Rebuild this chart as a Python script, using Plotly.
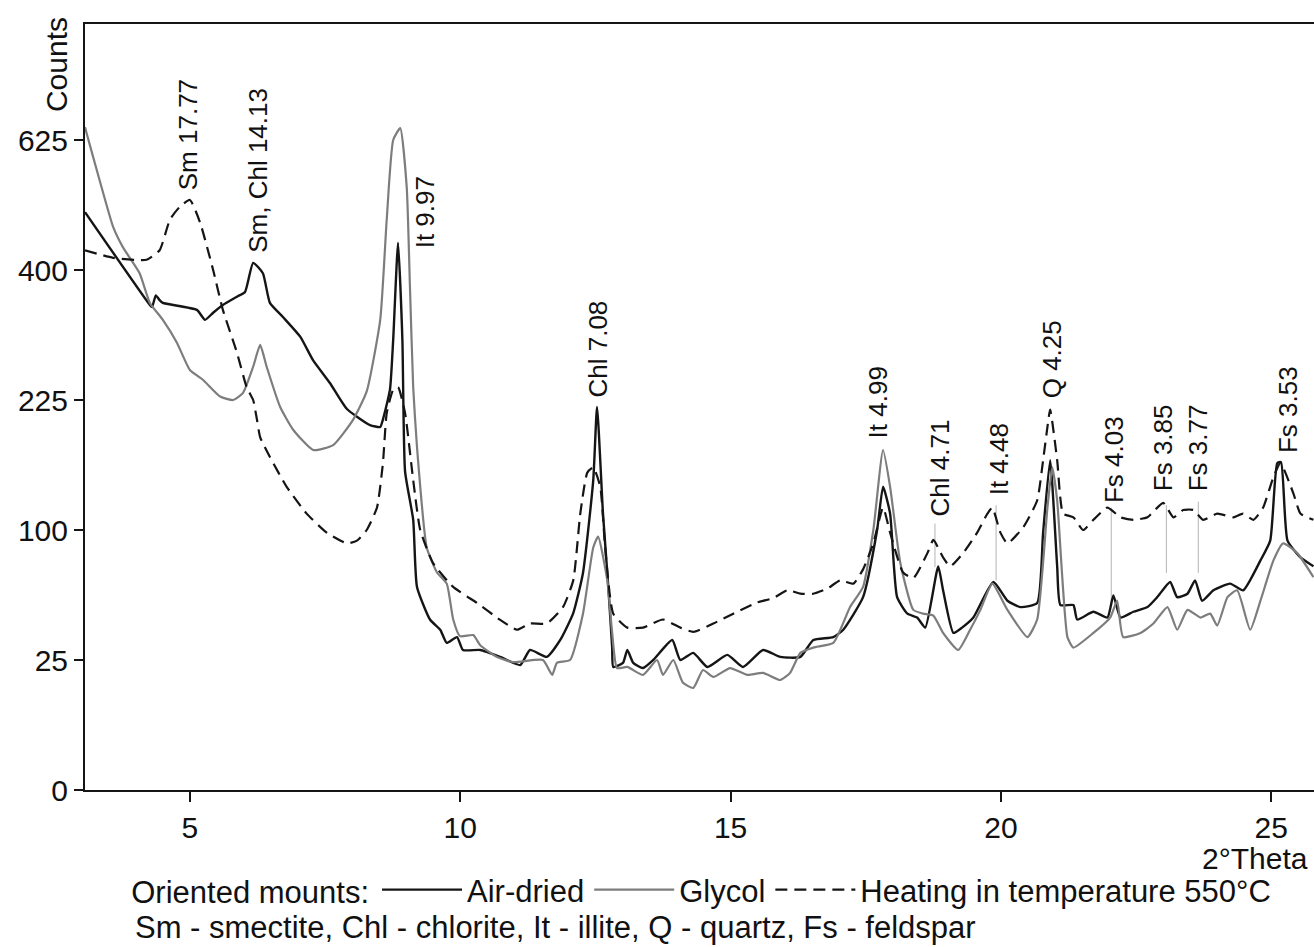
import numpy as np
import plotly.graph_objects as go

# ---------------- data (2-theta in degrees, intensity in counts) ----------------
air_x = [3.06,4.26,4.30,4.37,4.44,4.50,5.13,5.28,5.43,5.61,5.87,6.02,6.17,6.35,6.48,6.72,7.04,7.28,7.59,7.90,
         8.33,8.52,8.57,8.70,8.76,8.85,8.93,8.98,9.13,9.20,9.44,9.63,9.75,9.94,10.05,10.37,10.74,11.11,11.29,11.60,
         11.85,12.09,12.27,12.46,12.53,12.64,12.73,12.81,12.83,13.01,13.09,13.20,13.38,13.57,13.92,14.07,14.31,14.57,
         14.94,15.23,15.60,15.92,16.29,16.53,16.90,17.08,17.45,17.71,17.82,17.95,18.08,18.27,18.45,18.60,18.84,18.93,
         19.12,19.28,19.49,19.86,20.12,20.36,20.67,20.78,20.91,21.04,21.10,21.34,21.41,21.71,21.97,22.08,22.21,22.45,
         22.71,22.89,23.13,23.26,23.45,23.59,23.72,23.93,24.24,24.48,24.80,24.98,25.11,25.18,25.30,25.54,25.78]
air_c = [494,348,345,362,355,351,341,327,337,348,360,367,411,395,351,331,304,273,245,215,
         197,195,203,237,300,443,300,150,108,61,43,38,32,34.6,29,29,26.2,23.1,29,26.2,
         33.3,46.3,69.7,142,217,113,65,30,22.4,23.9,29,23.9,22,25,33.3,25,27.8,22.4,
         27,22.4,29,26.2,26.2,33.3,34.6,37.9,55,100,136,113,55,46,44,39,74,59,
         36.5,39,44,64,53,49.5,51.7,98,161,74,50.6,50.6,43,47,44,56,44,47,
         49.5,55,64,55,57,65,53,59,63,59,78,92,158,159,92,80,74]

gly_x = [3.06,3.09,3.33,3.58,3.76,4.07,4.26,4.50,4.76,5.00,5.24,5.56,5.80,5.98,6.17,6.30,6.42,6.67,6.91,7.28,
         7.65,8.02,8.27,8.52,8.64,8.76,8.89,9.01,9.07,9.13,9.20,9.38,9.57,9.75,9.87,9.995,10.24,10.37,10.68,10.98,
         11.53,11.70,11.79,12.03,12.27,12.46,12.55,12.72,12.81,12.90,13.09,13.38,13.64,13.75,13.94,14.12,14.31,14.49,
         14.68,14.99,15.31,15.60,15.92,16.10,16.29,16.53,16.90,17.21,17.45,17.64,17.82,17.95,18.14,18.38,18.56,18.75,
         18.93,19.21,19.43,19.62,19.84,20.12,20.49,20.67,20.86,20.95,21.04,21.23,21.34,21.71,22.02,22.15,22.26,22.58,
         22.82,23.08,23.26,23.45,23.69,23.87,24.00,24.19,24.37,24.61,24.80,25.04,25.22,25.48,25.78]
gly_c = [650,638,550,469,436,395,351,327,296,261,249,229,225,233,265,293,265,217,192,171,
         176,203,235,327,481,625,648,538,374,240,174,87,70,63,43,35,35.5,31,26.2,24.2,
         25,19.6,24,25,46,87,95,65,36.5,22,22.4,19.6,25,19.6,25,17,15.4,21.3,
         18.9,22,19.6,20.3,17.9,20.3,27.8,30,32,49.5,61,100,171,136,76,48,46,45,
         36.5,29,38,48,63,48,34.6,43,118,154,124,34.6,30,36.5,44,53,34.6,36.5,
         41,49.5,38,48,44,46,40,55,59,38,53,78,90,83,67]

heat_x = [3.06,3.58,4.20,4.44,4.63,4.81,5.00,5.19,5.43,5.61,5.87,6.05,6.17,6.24,6.30,6.48,6.79,7.16,7.53,7.90,
          8.09,8.27,8.46,8.57,8.64,8.76,8.85,8.98,9.13,9.26,9.50,9.87,10.31,10.74,11.05,11.29,11.60,11.90,12.09,12.22,
          12.35,12.46,12.59,12.68,12.83,13.09,13.38,13.75,14.07,14.31,14.68,15.05,15.49,15.79,16.05,16.29,16.53,16.79,
          17.03,17.27,17.45,17.64,17.82,17.95,18.19,18.38,18.64,18.75,18.93,19.06,19.30,19.56,19.75,19.84,19.99,20.12,
          20.41,20.67,20.78,20.86,20.91,21.04,21.15,21.34,21.52,21.71,21.97,22.21,22.45,22.71,23.00,23.19,23.37,23.56,
          23.74,24.00,24.30,24.48,24.67,24.85,25.04,25.17,25.41,25.54,25.78]
heat_c = [431,419,416,431,481,503,515,476,400,341,283,240,225,203,184,164,136,113,98,90,
          92,100,118,158,210,237,240,210,142,100,76,61,51.7,42.8,38,41,41,49.5,65,113,
          149,154,136,87,46,39,39,43,39,37,41,46,52,54.5,59,57,57,60,
          65,63,72,90,118,98,70,66.5,83,92.5,80,74,83,98,113,118,98,90,
          102,124,161,195,214,161,113,110,100,108,118,110,108,110,122,110,116,116,
          108,113,110,113,108,118,145,158,130,113,108]

# peak labels (d-spacings) and where their bottoms sit
lab_text = ["Sm 17.77", "Sm, Chl 14.13", "It 9.97", "Chl 7.08", "It 4.99", "Chl 4.71",
            "It 4.48", "Q 4.25", "Fs 4.03", "Fs 3.85", "Fs 3.77", "Fs 3.53"]
lab_x = [4.96, 6.26, 9.35, 12.53, 17.73, 18.88, 19.97, 20.95, 22.08, 23.00, 23.65, 25.30]
lab_c = [529, 423, 431, 225, 181, 109, 127, 225, 120, 130, 130, 166]

# thin leader lines from label to peak
lead_x = [18.78, 19.91, 22.04, 23.06, 23.65]
lead_top = [105, 120, 118, 120, 123]
lead_bot = [73.6, 65, 51.7, 69.7, 69.7]

y_tick_counts = [0, 25, 100, 225, 400, 625]
x_ticks = [5, 10, 15, 20, 25]


def sq(v):
    return np.sqrt(np.asarray(v, dtype=float))


FONT = "Liberation Sans, Arial, Helvetica, sans-serif"
BLACK = "#151515"
GRAY = "#7d7d7d"
SMOOTH = 0.5

fig = go.Figure()

lx, ly = [], []
for x0, t, b in zip(lead_x, lead_top, lead_bot):
    lx += [x0, x0, None]
    ly += [float(np.sqrt(t)), float(np.sqrt(b)), None]
fig.add_trace(go.Scatter(x=lx, y=ly, mode="lines", line=dict(color="#b4b4b4", width=1),
                         showlegend=False, hoverinfo="skip"))

fig.add_trace(go.Scatter(x=air_x, y=sq(air_c), mode="lines", name="Air-dried",
                         line=dict(color=BLACK, width=2.4, shape="spline", smoothing=SMOOTH)))
fig.add_trace(go.Scatter(x=gly_x, y=sq(gly_c), mode="lines", name="Glycol",
                         line=dict(color=GRAY, width=2.2, shape="spline", smoothing=SMOOTH)))
fig.add_trace(go.Scatter(x=heat_x, y=sq(heat_c), mode="lines", name="Heating in temperature 550°C",
                         line=dict(color=BLACK, width=2.2, dash="12px,7px",
                                   shape="spline", smoothing=SMOOTH)))

annotations = []
for t, x0, c0 in zip(lab_text, lab_x, lab_c):
    annotations.append(dict(x=x0, y=float(np.sqrt(c0)), xref="x", yref="y", text=t,
                            textangle=-90, showarrow=False, xanchor="center", yanchor="bottom",
                            font=dict(family=FONT, size=26, color="#111")))

annotations.append(dict(x=-0.023, y=1.012, xref="paper", yref="paper", text="Counts",
                        textangle=-90, showarrow=False, xanchor="center", yanchor="top",
                        font=dict(family=FONT, size=30, color="#111")))
annotations.append(dict(x=0.9965, y=-0.09, xref="paper", yref="paper", text="2°Theta",
                        showarrow=False, xanchor="right", yanchor="middle",
                        font=dict(family=FONT, size=30, color="#111")))
annotations.append(dict(x=0.039, y=-0.18, xref="paper", yref="paper",
                        text="Sm - smectite, Chl - chlorite, It - illite, Q - quartz, Fs - feldspar",
                        showarrow=False, xanchor="left", yanchor="middle",
                        font=dict(family=FONT, size=31, color="#111")))

fig.update_layout(
    width=1314, height=947,
    margin=dict(l=85, r=0, t=24, b=157, autoexpand=False),
    paper_bgcolor="white", plot_bgcolor="white",
    font=dict(family=FONT, size=30, color="#111"),
    annotations=annotations,
    showlegend=True,
    legend=dict(orientation="h", x=0.036, y=-0.1305, xanchor="left", yanchor="middle",
                title=dict(text="Oriented mounts:", side="left", font=dict(size=31)),
                font=dict(size=31), itemwidth=80, tracegroupgap=0,
                bgcolor="rgba(0,0,0,0)"),
)

fig.update_xaxes(range=[3.06, 25.79], tickvals=x_ticks, ticktext=[str(v) for v in x_ticks],
                 ticks="outside", ticklen=10, tickwidth=2, tickcolor=BLACK,
                 showline=True, linecolor=BLACK, linewidth=2, mirror=True, automargin=False,
                 showgrid=False, zeroline=False, tickfont=dict(size=30))
fig.update_yaxes(range=[0, float(np.sqrt(868))], tickvals=sq(y_tick_counts).tolist(),
                 ticktext=[str(v) for v in y_tick_counts],
                 ticks="outside", ticklen=9, tickwidth=2, tickcolor=BLACK,
                 showline=True, linecolor=BLACK, linewidth=2, automargin=False,
                 showgrid=False, zeroline=False, tickfont=dict(size=30))

fig.write_html("out.html", config={"displayModeBar": False},
               post_script="document.body.style.margin='0';")
